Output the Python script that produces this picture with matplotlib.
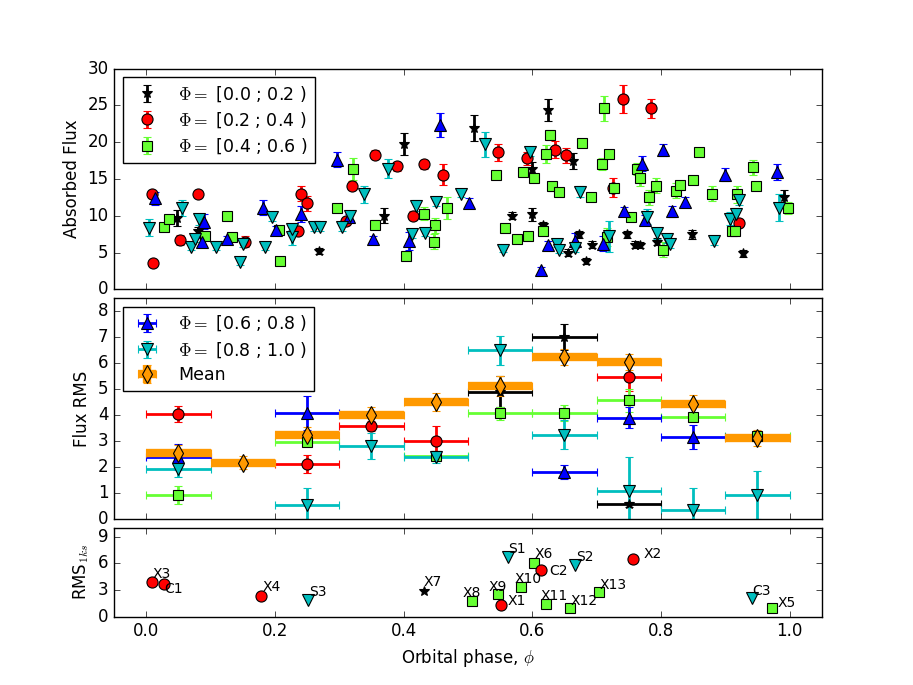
import matplotlib
matplotlib.use('Agg')
import matplotlib.pyplot as plt
from matplotlib.gridspec import GridSpec

plt.style.use('classic')

# ---- top panel: absorbed flux per observation, grouped by superorbital phase
ph_00 = [0.047, 0.080, 0.268, 0.369, 0.400, 0.510, 0.569, 0.599, 0.600, 0.617, 0.624, 0.655,
         0.663, 0.672, 0.683, 0.693, 0.748, 0.760, 0.768, 0.794, 0.849, 0.927, 0.992]
fx_00 = [9.7, 7.9, 5.2, 10.0, 19.7, 21.9, 10.0, 10.2, 16.4, 8.8, 24.4, 5.0,
         17.4, 7.5, 3.9, 6.1, 7.5, 6.1, 6.0, 6.5, 7.5, 4.9, 12.5]
er_00 = [1.1, 0.6, 0.4, 1.0, 1.5, 1.8, 0.5, 0.9, 0.9, 0.4, 1.5, 0.5,
         1.1, 0.5, 0.4, 0.5, 0.5, 0.5, 0.4, 0.5, 0.6, 0.5, 1.0]

ph_02 = [0.009, 0.011, 0.053, 0.081, 0.154, 0.236, 0.240, 0.250, 0.311, 0.320, 0.356, 0.390,
         0.414, 0.431, 0.462, 0.546, 0.592, 0.635, 0.652, 0.726, 0.741, 0.784, 0.921]
fx_02 = [12.9, 3.6, 6.7, 13.0, 6.5, 8.0, 13.0, 11.7, 9.3, 14.1, 18.3, 16.7,
         10.0, 17.0, 15.6, 18.6, 17.8, 19.0, 18.2, 13.8, 25.9, 24.6, 9.0]
er_02 = [0.5, 0.4, 0.7, 0.4, 0.7, 0.5, 1.0, 1.0, 0.6, 0.6, 0.6, 0.6,
         0.6, 0.6, 1.4, 1.1, 0.9, 1.1, 1.0, 1.3, 1.9, 1.3, 0.5]

ph_04 = [0.027, 0.035, 0.092, 0.125, 0.133, 0.207, 0.208, 0.296, 0.322, 0.355, 0.403, 0.431,
         0.448, 0.449, 0.468, 0.544, 0.557, 0.577, 0.586, 0.594, 0.602, 0.616, 0.621, 0.627,
         0.631, 0.642, 0.677, 0.691, 0.708, 0.712, 0.717, 0.719, 0.727, 0.754, 0.763, 0.768,
         0.782, 0.793, 0.804, 0.823, 0.830, 0.850, 0.860, 0.879, 0.910, 0.915, 0.919, 0.943,
         0.948, 0.997]
fx_04 = [8.5, 9.5, 7.3, 10.0, 7.1, 8.1, 3.9, 11.0, 16.4, 8.8, 4.5, 10.3,
         6.5, 8.7, 11.1, 15.6, 8.4, 6.9, 16.0, 7.3, 15.1, 8.0, 18.4, 21.0,
         14.0, 13.3, 19.9, 12.6, 17.0, 24.6, 7.1, 18.4, 13.8, 9.9, 16.4, 15.1,
         12.5, 14.1, 5.4, 13.4, 14.2, 14.9, 18.6, 13.0, 7.9, 8.0, 12.9, 16.6,
         14.1, 11.1]
er_04 = [0.3, 0.4, 0.4, 0.4, 0.4, 0.5, 0.3, 0.5, 1.5, 0.6, 0.4, 0.9,
         1.0, 1.0, 1.5, 0.5, 0.4, 0.4, 0.4, 0.4, 0.5, 0.4, 1.2, 0.7,
         0.6, 0.4, 0.4, 0.5, 0.8, 1.7, 1.2, 0.5, 0.4, 0.3, 0.8, 1.0,
         1.0, 1.0, 1.0, 1.0, 0.4, 0.4, 0.4, 1.0, 0.5, 0.5, 1.2, 1.0,
         0.4, 0.8]

ph_06 = [0.014, 0.087, 0.089, 0.126, 0.182, 0.202, 0.241, 0.297, 0.315, 0.353, 0.408, 0.457,
         0.501, 0.614, 0.624, 0.666, 0.710, 0.742, 0.770, 0.775, 0.804, 0.818, 0.838, 0.900,
         0.980]
fx_06 = [12.4, 6.5, 9.2, 6.8, 11.1, 8.1, 10.3, 17.6, 9.8, 6.9, 6.6, 22.3,
         11.7, 2.6, 6.1, 6.6, 6.2, 10.6, 17.1, 9.4, 18.9, 10.6, 11.9, 15.6,
         16.0]
er_06 = [0.9, 0.5, 1.0, 0.5, 1.0, 0.5, 1.1, 1.0, 0.5, 0.4, 1.2, 1.6,
         0.7, 0.5, 0.5, 1.0, 1.0, 0.6, 1.0, 0.7, 0.8, 0.7, 0.6, 0.9,
         1.1]

ph_08 = [0.004, 0.055, 0.070, 0.076, 0.082, 0.109, 0.146, 0.151, 0.184, 0.196, 0.226, 0.227,
         0.260, 0.270, 0.305, 0.317, 0.339, 0.375, 0.413, 0.420, 0.434, 0.451, 0.490, 0.527,
         0.555, 0.597, 0.638, 0.641, 0.666, 0.674, 0.719, 0.779, 0.794, 0.810, 0.814, 0.883,
         0.908, 0.916, 0.922, 0.983]
fx_08 = [8.4, 11.1, 5.7, 6.8, 9.5, 5.7, 3.7, 6.2, 5.7, 9.9, 7.1, 8.2,
         8.5, 8.5, 8.5, 10.0, 12.9, 16.4, 7.5, 11.4, 7.7, 11.9, 13.0, 19.7,
         5.4, 18.7, 6.2, 5.4, 5.6, 13.3, 7.2, 9.9, 7.6, 6.9, 6.2, 6.6,
         9.6, 10.3, 12.1, 11.1]
er_08 = [1.1, 1.1, 0.4, 0.4, 0.8, 0.3, 0.4, 0.4, 0.3, 0.6, 1.0, 0.5,
         0.5, 0.5, 0.5, 0.6, 1.1, 1.3, 0.5, 0.8, 0.4, 0.6, 0.5, 1.7,
         0.3, 0.6, 0.5, 0.5, 0.5, 0.8, 2.1, 1.0, 0.7, 0.6, 0.6, 0.5,
         0.9, 0.8, 0.6, 1.8]

# ---- middle panel: flux rms in orbital phase bins
bin_hw = 0.05
rph_00 = [0.55, 0.65, 0.75]
rms_00 = [4.9, 7.0, 0.58]
rer_00 = [0.6, 0.5, 0.1]
rph_02 = [0.05, 0.25, 0.35, 0.45, 0.75]
rms_02 = [4.05, 2.12, 3.58, 3.0, 5.47]
rer_02 = [0.3, 0.35, 0.2, 0.58, 0.55]
rph_04 = [0.05, 0.25, 0.45, 0.55, 0.65, 0.75, 0.85, 0.95]
rms_04 = [0.93, 2.97, 2.43, 4.08, 4.08, 4.57, 3.94, 3.21]
rer_04 = [0.35, 0.15, 0.2, 0.25, 0.3, 0.45, 0.15, 0.2]
rph_06 = [0.05, 0.25, 0.65, 0.75, 0.85]
rms_06 = [2.4, 4.08, 1.82, 3.9, 3.17]
rer_06 = [0.5, 0.65, 0.28, 0.4, 0.45]
rph_08 = [0.05, 0.25, 0.35, 0.45, 0.55, 0.65, 0.75, 0.85, 0.95]
rms_08 = [1.93, 0.55, 2.82, 2.38, 6.5, 3.25, 1.08, 0.36, 0.93]
rer_08 = [0.3, 0.65, 0.5, 0.2, 0.55, 0.55, 1.3, 0.85, 0.92]
rph_mean = [0.05, 0.15, 0.25, 0.35, 0.45, 0.55, 0.65, 0.75, 0.85, 0.95]
rms_mean = [2.55, 2.17, 3.24, 4.0, 4.5, 5.13, 6.25, 6.05, 4.44, 3.13]
rer_mean = [0.3, 0.25, 0.3, 0.3, 0.35, 0.4, 0.3, 0.3, 0.35, 0.3]

# ---- bottom panel: 1 ks rms of individual sources
src_names = ['X3', 'C1', 'X4', 'S3', 'X7', 'X8', 'X9', 'X1', 'S1', 'X6',
             'C2', 'X10', 'X11', 'X12', 'S2', 'X13', 'X2', 'C3', 'X5']
src_phase = [0.009, 0.027, 0.179, 0.252, 0.431, 0.507, 0.546, 0.552, 0.563, 0.602,
             0.614, 0.583, 0.621, 0.658, 0.666, 0.704, 0.756, 0.941, 0.972]
src_rms = [3.9, 3.67, 2.3, 1.87, 2.9, 1.75, 2.5, 1.3, 6.7, 6.0,
           5.25, 3.3, 1.43, 0.97, 5.8, 2.8, 6.5, 2.1, 0.97]
src_group = ['02', '02', '02', '08', '00', '04', '04', '02', '08', '04',
             '02', '04', '04', '04', '08', '04', '02', '08', '04']
# label offsets in pixels
src_off = [(1, 8), (1, -5), (1, 9), (1, 8), (0, 9), (-10, 8), (-9, 7), (6, 4), (0, 8), (1, 9),
           (8, -1), (-7, 8), (-5, 8), (1, 7), (1, 8), (0, 7), (11, 5), (1, 7), (6, 5)]

labels = {'00': r'$\Phi=$ [0.0 ; 0.2 )', '02': r'$\Phi=$ [0.2 ; 0.4 )',
          '04': r'$\Phi=$ [0.4 ; 0.6 )', '06': r'$\Phi=$ [0.6 ; 0.8 )',
          '08': r'$\Phi=$ [0.8 ; 1.0 )'}
colors = {'00': 'k', '02': 'r', '04': '#66ff33', '06': 'b', '08': 'c'}
markers = {'00': '*', '02': 'o', '04': 's', '06': '^', '08': 'v'}
msizes = {'00': 7, '02': 8, '04': 7, '06': 8, '08': 8}

top = {'00': (ph_00, fx_00, er_00), '02': (ph_02, fx_02, er_02), '04': (ph_04, fx_04, er_04),
       '06': (ph_06, fx_06, er_06), '08': (ph_08, fx_08, er_08)}
mid = {'00': (rph_00, rms_00, rer_00), '02': (rph_02, rms_02, rer_02), '04': (rph_04, rms_04, rer_04),
       '06': (rph_06, rms_06, rer_06), '08': (rph_08, rms_08, rer_08)}

fig = plt.figure(figsize=(9.13, 6.85), dpi=100, facecolor='w')
gs = GridSpec(3, 1, height_ratios=[2.5, 2.5, 1], hspace=0.05,
              left=0.125, right=0.9, top=0.9, bottom=0.1)
ax1 = fig.add_subplot(gs[0])
ax2 = fig.add_subplot(gs[1], sharex=ax1)
ax3 = fig.add_subplot(gs[2], sharex=ax1)

h1 = []
for k in ['00', '02', '04', '06', '08']:
    x, y, e = top[k]
    h = ax1.errorbar(x, y, yerr=e, fmt=markers[k], color=colors[k], mfc=colors[k], mec='k',
                     mew=0.8, ms=msizes[k], elinewidth=2, capsize=3, capthick=1.5,
                     label=labels[k])
    h1.append(h)

h2 = []
for k in ['00', '02', '04', '06', '08']:
    x, y, e = mid[k]
    h = ax2.errorbar(x, y, xerr=bin_hw, yerr=e, fmt=markers[k], color=colors[k], mfc=colors[k],
                     mec='k', mew=0.8, ms=msizes[k], elinewidth=2, capsize=3, capthick=1.5,
                     label=labels[k])
    h2.append(h)
hm = ax2.errorbar(rph_mean, rms_mean, xerr=bin_hw, yerr=rer_mean, fmt='d', color='#ff9900',
                  mfc='#ff9900', mec='k', mew=0.8, ms=9, elinewidth=2, capsize=3, capthick=1.5,
                  label='Mean')
hm.lines[2][0].set_linewidth(6)
hm.lines[2][0].set_capstyle('butt')

for n, x, y, g, off in zip(src_names, src_phase, src_rms, src_group, src_off):
    ax3.plot(x, y, markers[g], color=colors[g], mec='k', mew=0.8, ms=msizes[g])
    ax3.annotate(n, (x, y), xytext=off, textcoords='offset pixels', ha='left', va='center',
                 fontsize=10)

ax1.legend(handles=h1[:3], loc='upper left', numpoints=1, fontsize=12.5, labelspacing=0.38)
ax2.legend(handles=[h2[3], h2[4], hm], loc='upper left', numpoints=1, fontsize=12.5,
           labelspacing=0.38)

ax1.set_xlim(-0.05, 1.05)
ax1.set_ylim(0, 30)
ax2.set_ylim(0, 8.5)
ax3.set_ylim(0, 10)
ax1.set_yticks(range(0, 31, 5))
ax2.set_yticks(range(0, 9))
ax3.set_yticks([0, 3, 6, 9])
ax1.set_xticks([0.0, 0.2, 0.4, 0.6, 0.8, 1.0])
plt.setp(ax1.get_xticklabels(), visible=False)
plt.setp(ax2.get_xticklabels(), visible=False)

ax1.set_ylabel('Absorbed Flux')
ax2.set_ylabel('Flux RMS')
ax3.set_ylabel(r'RMS$_{1ks}$')
ax3.set_xlabel(r'Orbital phase, $\phi$')

fig.savefig('out.png', dpi=100, facecolor='w')
